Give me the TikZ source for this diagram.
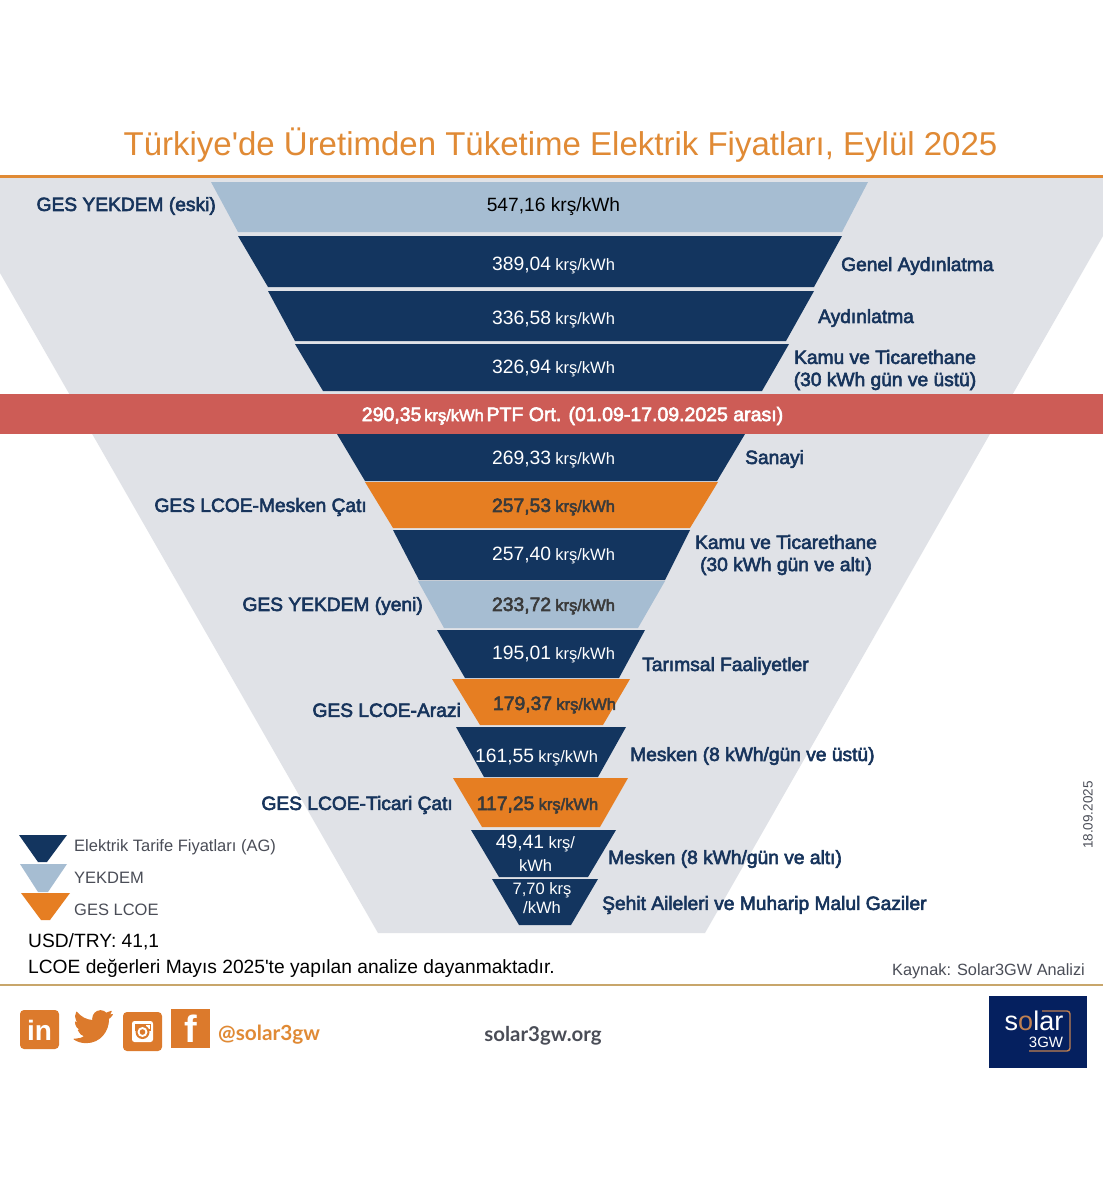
\documentclass[tikz,border=0pt]{standalone}
\usepackage{fontspec}
\setmainfont{Liberation Sans}
\newfontfamily\plainf{Liberation Sans}
\newfontfamily\fbf[FakeBold=3]{Liberation Sans}
\newfontfamily\rawfont{Lato}
\definecolor{navy}{HTML}{13355F}
\definecolor{sky}{HTML}{A6BDD2}
\definecolor{amber}{HTML}{E67E22}
\definecolor{paleg}{HTML}{E0E2E7}
\definecolor{redb}{HTML}{CD5C56}
\definecolor{tone}{HTML}{E08A35}
\definecolor{icono}{HTML}{DC7A2C}
\definecolor{tan}{HTML}{C8A66B}
\definecolor{labelc}{HTML}{17345C}
\definecolor{greyt}{HTML}{4A4D57}
\definecolor{dark}{HTML}{3A3A3A}
\definecolor{logob}{HTML}{05205F}
\definecolor{logoo}{HTML}{C08050}
\newcommand{\fs}[1]{\fontsize{#1}{#1}\selectfont}
\newcommand{\trap}[7]{\fill[#1] (#4,#2) -- (#5,#2) -- (#7,#3) -- (#6,#3) -- cycle;}
\newcommand{\val}[2]{{\fs{19.3}#1} \hspace{1.5pt}{\fs{16.5}#2}}
\newcommand{\bval}[2]{\fbf{\fs{19.3}#1} \hspace{1.5pt}{\fs{16.5}#2}}
\tikzset{
  x=1pt,y=-1pt,
  lab/.style={font=\fbf\fs{19.2},text=labelc,inner sep=0pt,align=center},
  lableft/.style={lab,anchor=east},
  labright/.style={lab,anchor=west},
  valw/.style={text=white,inner sep=0pt,align=center},
  vald/.style={text=dark,inner sep=0pt,align=center},
  legend/.style={font=\fs{16.5},text=greyt,inner sep=0pt,anchor=west},
  note/.style={font=\fs{19.2},text=black,inner sep=0pt,anchor=west},
  iconbox/.style={fill=icono,rounded corners=4pt},
}
\begin{document}
\begin{tikzpicture}
\useasboundingbox (0,0) rectangle (1103,1200);
\fill[white] (0,0) rectangle (1103,1200);
% background funnel
\fill[paleg] (0,177) -- (1103,177) -- (1103,236) -- (705,933) -- (378,933) -- (0,273) -- cycle;
\fill[tone] (0,175) rectangle (1103,177.5);
\node[font=\fs{33},text=tone,inner sep=0pt] (title) at (560.5,145) {Türkiye{\plainf '}de Üretimden Tüketime Elektrik Fiyatları, Eylül 2025};
% funnel bars
\trap{sky}{182}{232}{211}{868}{238}{842}
\trap{navy}{236}{287}{238}{842}{268}{814}
\trap{navy}{291}{341}{268}{814}{295}{786}
\trap{navy}{344}{391}{295}{789}{323}{762}
\fill[redb] (0,394) rectangle (1103,434);
\trap{navy}{434}{481}{337}{745}{365}{717}
\trap{amber}{482}{528}{365}{718}{393}{690}
\trap{navy}{530}{580}{393}{690}{419}{665}
\trap{sky}{581}{628}{418}{665}{444}{638}
\trap{navy}{630}{678}{437}{645}{465}{619}
\trap{amber}{679}{725}{452}{630}{480}{603}
\trap{navy}{727}{777}{456}{626}{484}{598}
\trap{amber}{778}{827}{453}{628}{482}{600}
\trap{navy}{830}{877}{471}{616}{499}{588}
\trap{navy}{879}{925}{492}{598}{519}{571}
% values
\node[inner sep=0pt,text=black,font=\fs{19.2}] (v1) at (553.5,207) {547,16 krş/kWh};
\node[valw] (v2) at (553.5,266) {\val{389,04}{krş/kWh}};
\node[valw] (v3) at (553.5,320) {\val{336,58}{krş/kWh}};
\node[valw] (v4) at (553.5,369) {\val{326,94}{krş/kWh}};
\node[valw] (ptf) at (572.5,416) {\fbf{\fs{19.5}290,35} {\fs{16.5}krş/kWh} {\fs{19.5}PTF Ort. (01.09-17.09.2025 arası)}};
\node[valw] (v5) at (553.5,460) {\val{269,33}{krş/kWh}};
\node[vald] (v6) at (553.5,507) {\bval{257,53}{krş/kWh}};
\node[valw] (v7) at (553.5,556) {\val{257,40}{krş/kWh}};
\node[vald] (v8) at (553.5,606) {\bval{233,72}{krş/kWh}};
\node[valw] (v9) at (553.5,655) {\val{195,01}{krş/kWh}};
\node[vald] (v10) at (554.5,705) {\bval{179,37}{krş/kWh}};
\node[valw] (v11) at (536.5,757) {\val{161,55}{krş/kWh}};
\node[vald] (v12) at (537.5,805) {\bval{117,25}{krş/kWh}};
\node[valw] (v13a) at (535.5,843) {\val{49,41}{krş/}};
\node[valw,font=\fs{16.5}] (v13b) at (535.5,866) {kWh};
\node[valw,font=\fs{16.5}] (v14a) at (542,890) {7,70 krş};
\node[valw,font=\fs{16.5}] (v14b) at (542,908) {/kWh};
% left labels
\node[lableft] (l1) at (216,206) {GES YEKDEM (eski)};
\node[lableft] (l6) at (367,507) {GES LCOE-Mesken Çatı};
\node[lableft] (l8) at (423,606) {GES YEKDEM (yeni)};
\node[lableft] (l10) at (461,710) {GES LCOE-Arazi};
\node[lableft] (l12) at (453,805) {GES LCOE-Ticari Çatı};
% right labels
\node[labright] (r2) at (841,266) {Genel Aydınlatma};
\node[labright] (r3) at (818,318) {Aydınlatma};
\node[lab] (r4) at (885,370) {Kamu ve Ticarethane\\[3pt](30 kWh gün ve üstü)};
\node[labright] (r5) at (745,459) {Sanayi};
\node[lab] (r7) at (786,555) {Kamu ve Ticarethane\\[3pt](30 kWh gün ve altı)};
\node[labright] (r9) at (642,666) {Tarımsal Faaliyetler};
\node[labright] (r11) at (630,756) {Mesken (8 kWh/gün ve üstü)};
\node[labright] (r13) at (608,859) {Mesken (8 kWh/gün ve altı)};
\node[labright] (r14) at (602,905) {Şehit Aileleri ve Muharip Malul Gaziler};
% legend
\fill[navy] (19,835) -- (67,835) -- (47,862) -- (38,862) -- cycle;
\fill[sky] (20,864) -- (67,864) -- (48,892) -- (38,892) -- cycle;
\fill[amber] (21,893) -- (70,893) -- (50,920) -- (41,920) -- cycle;
\node[legend] (lg1) at (74,847) {Elektrik Tarife Fiyatları (AG)};
\node[legend] (lg2) at (74,878) {YEKDEM};
\node[legend] (lg3) at (74,910) {GES LCOE};
\node[note] (usd) at (28,942) {USD/TRY: 41,1};
\node[note] (lcoe) at (28,968) {LCOE değerleri Mayıs 2025{\plainf '}te yapılan analize dayanmaktadır.};
\node[font=\fs{16.3},text=greyt,inner sep=0pt,anchor=east] (src) at (1085,971) {Kaynak: Solar3GW Analizi};
\node[font=\fs{13.5},text=greyt,inner sep=0pt,rotate=90] (date) at (1088,815) {18.09.2025};
\fill[tan] (0,984) rectangle (1103,986);
% social icons
\fill[iconbox] (20,1010) rectangle (59,1049);
\node[text=white,font=\fs{28}\bfseries,inner sep=0pt] (in) at (39.5,1030) {in};
\begin{scope}[shift={(74,1007)},x=1.6pt,y=-1.64pt]
\filldraw[icono,line width=1pt,line join=round] (23.95,4.57) -- (21.13,5.35)
 .. controls (22.1,4.77) and (22.95,3.78) .. (23.29,2.62)
 .. controls (22.34,3.18) and (21.28,3.57) .. (20.16,3.80)
 .. controls (19.25,2.83) and (18.0,2.24) .. (16.6,2.24)
 .. controls (13.9,2.24) and (11.7,4.44) .. (11.7,7.15)
 .. controls (11.7,7.53) and (11.74,7.9) .. (11.83,8.27)
 .. controls (7.69,8.09) and (4.07,6.13) .. (1.64,3.16)
 .. controls (1.21,3.89) and (0.97,4.74) .. (0.97,5.64)
 .. controls (0.97,7.35) and (1.84,8.85) .. (3.16,9.73)
 .. controls (2.35,9.7) and (1.6,9.48) .. (0.93,9.12) -- (0.93,9.18)
 .. controls (0.93,11.55) and (2.62,13.54) .. (4.88,14.0)
 .. controls (4.16,14.2) and (3.4,14.23) .. (2.67,14.09)
 .. controls (3.3,16.04) and (5.11,17.45) .. (7.27,17.5)
 .. controls (5.59,18.82) and (3.47,19.6) .. (1.17,19.6)
 .. controls (0.78,19.6) and (0.39,19.58) .. (0,19.54)
 .. controls (2.19,20.94) and (4.78,21.75) .. (7.56,21.75)
 .. controls (16.61,21.75) and (21.56,14.25) .. (21.56,7.76)
 .. controls (21.56,7.55) and (21.56,7.34) .. (21.54,7.13)
 .. controls (22.5,6.44) and (23.34,5.58) .. (24,4.59) -- cycle;
\end{scope}
\fill[iconbox] (123,1012) rectangle (162,1051);
\fill[white,rounded corners=2.5pt] (132,1021) rectangle (153,1042);
\fill[icono] (134.5,1023.5) rectangle (150.5,1031);
\fill[white] (145.5,1024.5) rectangle (149.5,1028.5);
\fill[icono] (142.5,1032) circle (7pt);
\fill[white] (142.5,1032) circle (5pt);
\fill[icono] (142.5,1032) circle (2.8pt);
\fill[icono] (171,1009) rectangle (210,1048);
\node[text=white,font=\fs{38}\bfseries,inner sep=0pt] (fb) at (191,1029) {f};
\node[font=\rawfont\fs{20.8}\bfseries,text=tone,inner sep=0pt,anchor=west] (handle) at (218,1035) {@solar3gw};
\node[font=\rawfont\fs{20.4}\bfseries,text=greyt,inner sep=0pt] (web) at (543,1036) {solar3gw.org};
% logo
\fill[logob] (989,996) rectangle (1087,1068);
\draw[logoo,line width=1.4pt,rounded corners=3pt] (1042,1011) -- (1070,1011) -- (1070,1051) -- (1029,1051);
\node[text=white,font=\fs{27},inner sep=0pt] (logo1) at (1034,1021) {s\textcolor{logoo}{o}lar};
\node[text=white,font=\fs{15},inner sep=0pt] (logo2) at (1046,1042) {3GW};
\end{tikzpicture}
\end{document}
